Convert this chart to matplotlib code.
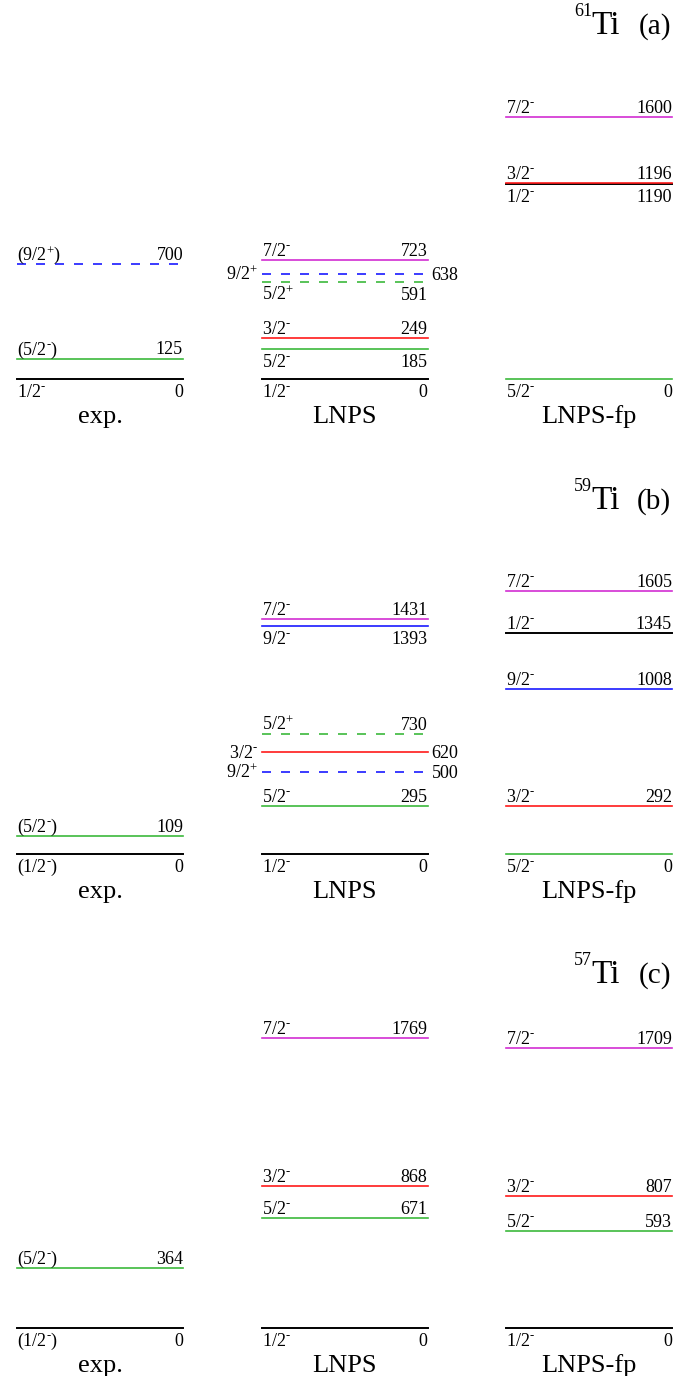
import matplotlib
matplotlib.use('Agg')
import matplotlib.pyplot as plt

plt.rcParams['font.family'] = ['Liberation Serif', 'DejaVu Serif']
plt.rcParams['mathtext.fontset'] = 'custom'
plt.rcParams['mathtext.rm'] = 'Liberation Serif'
plt.rcParams['mathtext.it'] = 'Liberation Serif:italic'

# ---- data (keV) ----
nuclei = ['61', '59', '57']
tags = ['(a)', '(b)', '(c)']
columns = ['exp.', 'LNPS', 'LNPS-fp']

ti61_exp_e = [0, 125, 700]
ti61_exp_j = ['1/2-', '(5/2-)', '(9/2+)']
ti61_lnps_e = [0, 185, 249, 591, 638, 723]
ti61_lnps_j = ['1/2-', '5/2-', '3/2-', '5/2+', '9/2+', '7/2-']
ti61_fp_e = [0, 1190, 1196, 1600]
ti61_fp_j = ['5/2-', '1/2-', '3/2-', '7/2-']

ti59_exp_e = [0, 109]
ti59_exp_j = ['(1/2-)', '(5/2-)']
ti59_lnps_e = [0, 295, 500, 620, 730, 1393, 1431]
ti59_lnps_j = ['1/2-', '5/2-', '9/2+', '3/2-', '5/2+', '9/2-', '7/2-']
ti59_fp_e = [0, 292, 1008, 1345, 1605]
ti59_fp_j = ['5/2-', '3/2-', '9/2-', '1/2-', '7/2-']

ti57_exp_e = [0, 364]
ti57_exp_j = ['(1/2-)', '(5/2-)']
ti57_lnps_e = [0, 671, 868, 1769]
ti57_lnps_j = ['1/2-', '5/2-', '3/2-', '7/2-']
ti57_fp_e = [0, 593, 807, 1709]
ti57_fp_j = ['1/2-', '5/2-', '3/2-', '7/2-']

# where the labels go (layout only)
ti61_place = [['below', 'above', 'above'],
              ['below', 'below', 'above', 'below', 'side', 'above'],
              ['below', 'below', 'above', 'above']]
ti59_place = [['below', 'above'],
              ['below', 'above', 'side', 'side', 'above', 'below', 'above'],
              ['below', 'above', 'above', 'above', 'above']]
ti57_place = [['below', 'above'],
              ['below', 'above', 'above', 'above'],
              ['below', 'above', 'above', 'above']]

panels = [
    [(ti61_exp_e, ti61_exp_j), (ti61_lnps_e, ti61_lnps_j), (ti61_fp_e, ti61_fp_j)],
    [(ti59_exp_e, ti59_exp_j), (ti59_lnps_e, ti59_lnps_j), (ti59_fp_e, ti59_fp_j)],
    [(ti57_exp_e, ti57_exp_j), (ti57_lnps_e, ti57_lnps_j), (ti57_fp_e, ti57_fp_j)],
]
places = [ti61_place, ti59_place, ti57_place]

colors = {'1/2': 'black', '3/2': '#ff1a1a', '5/2': '#3cb93c',
          '7/2': '#d22ed2', '9/2': '#1a1aff'}

# ---- layout ----
W, H = 692, 1376
scale = 0.164                # px per keV
ground = [379, 854, 1328]    # px from top
tops = [0, 440, 915]
bots = [440, 915, 1376]
col_left = [17, 261.5, 506]
col_w = 166
fs = 13

def spin_label(s):
    return s.replace('-', r'$^{\text{-}}$').replace('+', r'$^{+}$')

fig = plt.figure(figsize=(W / 100, H / 100), dpi=100)

for p in range(3):
    ax = fig.add_axes([0, 1 - bots[p] / H, 1, (bots[p] - tops[p]) / H])
    ax.set_xlim(0, W)
    ax.set_ylim(-(bots[p] - ground[p]) / scale, (ground[p] - tops[p]) / scale)
    ax.axis('off')
    px = 1 / scale  # one pixel in keV

    for c in range(3):
        energies, spins = panels[p][c]
        x0 = col_left[c]
        x1 = x0 + col_w
        for e, j, where in zip(energies, spins, places[p][c]):
            core = j.strip('()+-')
            col = colors[core]
            if '+' in j:
                ax.plot([x0, x1], [e, e], color=col, lw=1.2,
                        linestyle=(0, (5.4, 6.0)))
            else:
                lw = 1.4 if col == 'black' else 1.2
                ax.plot([x0, x1], [e, e], color=col, lw=lw)
            lab = spin_label(j)
            if where == 'above':
                y = e + 4 * px
                ax.text(x0, y, lab, ha='left', va='baseline', fontsize=fs)
                ax.text(x1, y, str(e), ha='right', va='baseline', fontsize=fs)
            elif where == 'below':
                y = e - 18 * px
                ax.text(x0, y, lab, ha='left', va='baseline', fontsize=fs)
                ax.text(x1, y, str(e), ha='right', va='baseline', fontsize=fs)
            else:
                y = e - 6 * px
                ax.text(x0 - 4, y, lab, ha='right', va='baseline', fontsize=fs)
                ax.text(x1 + 4, y, str(e), ha='left', va='baseline', fontsize=fs)

        ax.text(x0 + col_w / 2, -44 * px, columns[c], ha='center',
                va='baseline', fontsize=19)

    # nucleus title
    ty = 345 * px
    ax.text(620, ty, 'Ti', ha='right', va='baseline', fontsize=24)
    ax.text(592, ty + 18 * px, nuclei[p], ha='right', va='baseline', fontsize=13)
    ax.text(671, ty, tags[p], ha='right', va='baseline', fontsize=21)

plt.savefig('out.png', dpi=100)
